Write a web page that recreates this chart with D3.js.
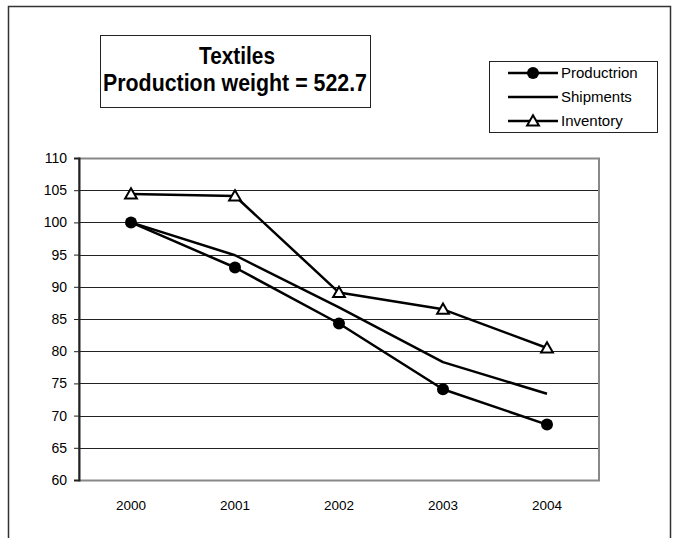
<!DOCTYPE html>
<html><head><meta charset="utf-8">
<script src="https://cdn.jsdelivr.net/npm/d3@7"></script>
<style>body{margin:0;background:#fff}svg{display:block}text{font-family:"Liberation Sans",Arial,sans-serif}</style>
</head><body><svg id="c" width="675" height="538"></svg>
<script>
const years = ["2000","2001","2002","2003","2004"];
const production = [100, 93.0, 84.3, 74.1, 68.6];
const shipments = [100, 94.9, 86.8, 78.3, 73.4];
const inventory = [104.4, 104.1, 89.1, 86.5, 80.5];
const yTicks = [60,65,70,75,80,85,90,95,100,105,110];
const seriesNames = ["Productrion","Shipments","Inventory"];
const titleLines = ["Textiles","Production weight = 522.7"];

const svg = d3.select("#c");
const L=79,R=599,T=158,B=480;
svg.append("path").attr("d","M8.5,540 V6.5 H670.5 V540").attr("fill","none").attr("stroke","#333").attr("stroke-width",1.5);

const x = d3.scaleBand().domain(years).range([L,R]);
const y = d3.scaleLinear().domain([60,110]).range([B,T]);

svg.append("g").selectAll("line").data(yTicks.filter(v=>v>60)).join("line")
  .attr("x1",L).attr("x2",R).attr("y1",d=>Math.round(y(d))+0.5).attr("y2",d=>Math.round(y(d))+0.5)
  .attr("stroke","#222").attr("stroke-width",1);
svg.append("rect").attr("x",L).attr("y",T+0.5).attr("width",R-L).attr("height",B-T)
  .attr("fill","none").attr("stroke","#888").attr("stroke-width",2);
const ya = svg.append("g").attr("transform",`translate(${L},0)`)
  .call(d3.axisLeft(y).tickValues(yTicks).tickSize(5).tickPadding(7).tickFormat(d3.format("d")));
ya.select(".domain").attr("stroke","#222").attr("stroke-width",2);
ya.selectAll(".tick line").attr("stroke","#222");
ya.selectAll("text").attr("font-size",14).attr("fill","#000").attr("font-family","Liberation Sans, Arial, sans-serif");
const xa = svg.append("g").attr("transform",`translate(0,${B})`)
  .call(d3.axisBottom(x).tickSize(0).tickPadding(20));
xa.select(".domain").remove();
xa.selectAll("text").attr("font-size",13.5).attr("fill","#000").attr("font-family","Liberation Sans, Arial, sans-serif");

const cx = d => x(d)+x.bandwidth()/2;
const line = d3.line().x((d,i)=>cx(years[i])).y(d=>y(d));
[production, shipments, inventory].forEach(s=>{
  svg.append("path").attr("d",line(s)).attr("fill","none").attr("stroke","#000").attr("stroke-width",2.5).attr("stroke-linejoin","round");
});
const tri = d3.symbol().type(d3.symbolTriangle).size(60);
svg.append("g").selectAll("circle").data(production).join("circle")
  .attr("cx",(d,i)=>cx(years[i])).attr("cy",d=>y(d)).attr("r",6).attr("fill","#000");
svg.append("g").selectAll("path").data(inventory).join("path")
  .attr("d",tri).attr("transform",(d,i)=>`translate(${cx(years[i])},${y(d)+1})`)
  .attr("fill","#fff").attr("stroke","#000").attr("stroke-width",2);

svg.append("rect").attr("x",100.5).attr("y",35.5).attr("width",270).attr("height",72).attr("fill","#fff").attr("stroke","#222").attr("stroke-width",1);
svg.append("text").attr("x",237).attr("y",64).attr("text-anchor","middle").attr("font-size",24).attr("font-weight","bold")
  .attr("textLength",76).attr("lengthAdjust","spacingAndGlyphs").text(titleLines[0]);
svg.append("text").attr("x",235).attr("y",91).attr("text-anchor","middle").attr("font-size",24).attr("font-weight","bold")
  .attr("textLength",264).attr("lengthAdjust","spacingAndGlyphs").text(titleLines[1]);

svg.append("rect").attr("x",489.5).attr("y",61.5).attr("width",168).attr("height",71).attr("fill","#fff").attr("stroke","#222").attr("stroke-width",1);
const ly = [73,97,121];
seriesNames.forEach((n,i)=>{
  svg.append("line").attr("x1",508).attr("x2",558).attr("y1",ly[i]).attr("y2",ly[i]).attr("stroke","#000").attr("stroke-width",2.5);
  if(i===0) svg.append("circle").attr("cx",533).attr("cy",ly[i]).attr("r",6).attr("fill","#000");
  if(i===2) svg.append("path").attr("d",tri).attr("transform",`translate(533,${ly[i]+1})`).attr("fill","#fff").attr("stroke","#000").attr("stroke-width",2);
  svg.append("text").attr("x",561).attr("y",ly[i]+5).attr("font-size",15).text(n);
});
</script></body></html>
